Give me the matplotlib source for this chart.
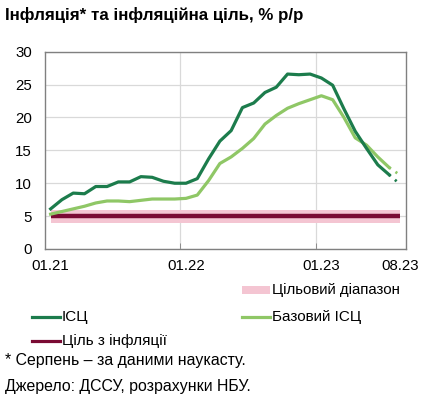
import numpy as np
import matplotlib.pyplot as plt
from matplotlib.lines import Line2D
from matplotlib.patches import Rectangle

plt.rcParams['font.family'] = ['Liberation Sans', 'DejaVu Sans']

# Monthly data, 01.2021 .. 07.2023 (Aug values are the nowcast)
cpi = [6.1, 7.5, 8.5, 8.4, 9.5, 9.5, 10.2, 10.2, 11.0, 10.9, 10.3, 10.0,
       10.0, 10.7, 13.7, 16.4, 18.0, 21.5, 22.2, 23.8, 24.6, 26.6, 26.5, 26.6,
       26.0, 24.9, 21.3, 17.9, 15.3, 12.8, 11.3]
core = [5.3, 5.7, 6.1, 6.5, 7.0, 7.3, 7.3, 7.2, 7.4, 7.6, 7.6, 7.6,
        7.7, 8.2, 10.4, 13.0, 14.0, 15.3, 16.8, 19.0, 20.3, 21.4, 22.1, 22.7,
        23.3, 22.7, 20.0, 16.9, 15.8, 14.0, 12.4]
cpi_nowcast = 9.8
core_nowcast = 11.2
target = 5
target_low, target_high = 4, 6
tick_pos = [0, 12, 24, 31]
tick_labels = ['01.21', '01.22', '01.23', '08.23']

DARK = '#1c7c4c'
LIGHT = '#8fc766'
MAROON = '#7a0a33'
PINK = '#f4c5d2'
FS = 11

W, H = 424, 397
fig = plt.figure(figsize=(W / 100, H / 100), dpi=100)
ax = fig.add_axes([45 / W, 1 - 249 / H, (406 - 45) / W, (249 - 51.7) / H])

x = np.arange(len(cpi))
n_all = len(cpi) + 1

# target range and target
ax.fill_between([0, n_all - 1], target_low, target_high, color=PINK, lw=0, zorder=2)
ax.plot([0, n_all - 1], [target, target], color=MAROON, lw=3.2, zorder=3,
        solid_capstyle='butt')

ax.plot(x, core, color=LIGHT, lw=2.3, zorder=4)
ax.plot(x, cpi, color=DARK, lw=2.3, zorder=5)
# nowcast segments
ax.plot([x[-1], x[-1] + 1], [core[-1], core_nowcast], color=LIGHT, lw=2,
        ls=(0, (0.8, 2)), zorder=4)
ax.plot([x[-1], x[-1] + 1], [cpi[-1], cpi_nowcast], color=DARK, lw=2,
        ls=(0, (0.8, 2)), zorder=5)

ax.set_xlim(-0.5, n_all - 0.5)
ax.set_ylim(0, 30)
ax.set_yticks(range(0, 31, 5))
ax.set_xticks(tick_pos)
ax.set_xticklabels(tick_labels)
ax.set_xticks([11.5, 23.5], minor=True)
ax.tick_params(axis='both', which='major', length=0, labelsize=10.8, colors='black')
ax.tick_params(axis='x', which='major', pad=7.5)
ax.tick_params(axis='y', which='major', pad=9.5)
ax.tick_params(axis='x', which='minor', direction='in', length=4, color='#808080')
ax.grid(axis='y', which='major', color='#d9d9d9', lw=0.9, zorder=0)
ax.grid(axis='x', which='minor', color='#d9d9d9', lw=0.9, zorder=0)
ax.set_axisbelow(True)
for s in ax.spines.values():
    s.set_color('#808080')
    s.set_linewidth(1)

fig.text(5 / W, 1 - 15 / H, 'Інфляція* та інфляційна ціль, % р/р',
         fontsize=12.2, fontweight='bold', va='center')


def legend_line(x0, y, color, label, lw=2.3):
    fig.add_artist(Line2D([x0 / W, (x0 + 28) / W], [1 - y / H, 1 - y / H],
                          color=color, lw=lw, transform=fig.transFigure))
    fig.text((x0 + 30) / W, 1 - y / H, label, fontsize=FS, va='center')


# legend
fig.add_artist(Rectangle((241.7 / W, 1 - 294 / H), 28 / W, 8 / H, color=PINK,
                         lw=0, transform=fig.transFigure))
fig.text(272 / W, 1 - 290 / H, 'Цільовий діапазон', fontsize=10.8, va='center')
legend_line(31.7, 316.7, DARK, 'ІСЦ')
legend_line(241.7, 316.7, LIGHT, 'Базовий ІСЦ')
legend_line(31.7, 340.7, MAROON, 'Ціль з інфляції')

fig.text(5 / W, 1 - 360.7 / H, '* Серпень – за даними наукасту.', fontsize=11.4, va='center')
fig.text(5 / W, 1 - 386.7 / H, 'Джерело: ДССУ, розрахунки НБУ.', fontsize=11.4, va='center')

fig.savefig('out.png', dpi=100)
